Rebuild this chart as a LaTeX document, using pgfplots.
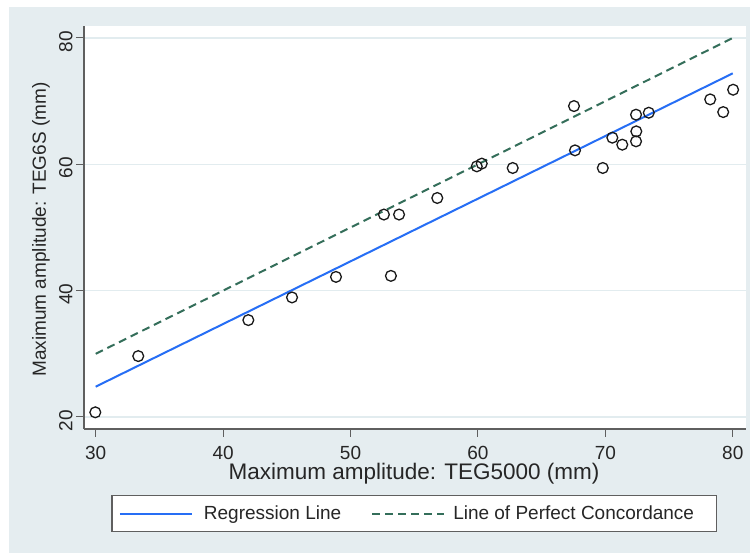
\documentclass[border=0pt]{standalone}
\usepackage{pgfplots}
\pgfplotsset{compat=1.18}
\usepackage{fontspec}
\setmainfont{Liberation Sans}
\definecolor{bgc}{RGB}{229,237,240}
\definecolor{gridc}{RGB}{226,236,239}
\definecolor{axc}{RGB}{95,95,95}
\definecolor{regc}{RGB}{38,110,245}
\definecolor{pcc}{RGB}{52,110,90}
\begin{document}
\begin{tikzpicture}
\path[use as bounding box] (0,0) rectangle (753pt,553pt);
\fill[bgc] (9pt,0pt) rectangle (750pt,546pt);
\begin{axis}[
 at={(84pt,124pt)}, anchor=south west,
 width=662pt, height=403pt, scale only axis,
 xmin=29.082, xmax=81.04, ymin=18.10, ymax=81.90,
 axis background/.style={fill=white},
 axis x line*=bottom, axis y line*=left,
 axis line style={draw=axc, line width=1.2pt, -},
 xtick={30,40,50,60,70,80}, ytick={20,40,60,80},
 tick align=outside, major tick length=8pt,
 tick style={draw=axc, line width=1pt},
 ymajorgrids, grid style={draw=gridc, line width=1.3pt},
 /pgf/number format/assume math mode=true,
 ticklabel style={font=\fontsize{19}{22}\selectfont, text=black!85},
 xticklabel style={inner sep=1pt, yshift=-8pt},
 yticklabel style={rotate=90, anchor=south, xshift=-3.5pt},
 xlabel={Maximum amplitude: TEG5000 (mm)},
 ylabel={Maximum amplitude: TEG6S (mm)},
 xlabel style={font=\fontsize{22.5}{26}\selectfont, text=black!85, inner sep=1pt, at={(axis description cs:0.4985,-0.126)}, anchor=base},
 ylabel style={font=\fontsize{19}{22}\selectfont, text=black!85, at={(axis description cs:-0.0575,0.495)}, anchor=base},
 legend columns=2,
 legend style={at={(axis description cs:0.4985,-0.2097)}, anchor=center, draw=axc, line width=1.1pt, fill=white,
   font=\fontsize{19}{22}\selectfont, text=black!85, inner xsep=7pt, inner ysep=8pt,
   /tikz/every even column/.append style={column sep=28pt}},
]
\addplot[only marks, mark=o, mark size=5.4pt, draw=black!90, line width=1.3pt, forget plot] coordinates {
(29.97,20.74) (33.34,29.64) (41.98,35.34) (45.41,38.93) (48.86,42.18)
(52.62,52.05) (53.17,42.34) (53.81,52.05) (56.81,54.67) (59.91,59.68)
(60.30,60.11) (62.73,59.42) (67.54,69.22) (67.62,62.21) (69.80,59.42)
(70.55,64.22) (71.33,63.11) (72.41,67.86) (72.43,65.22) (72.41,63.64)
(73.41,68.17) (78.23,70.28) (79.25,68.27) (80.03,71.81)
};
\addplot[regc, line width=2pt, legend image code/.code={\draw[regc, line width=2pt] (0pt,0pt) -- (72pt,0pt); \path (81pt,0pt);}] coordinates {(30,24.8) (80,74.4)};
\addlegendentry{Regression Line}
\addplot[pcc, line width=2pt, dash pattern=on 8pt off 5pt, legend image code/.code={\draw[pcc, line width=2pt, dash pattern=on 8pt off 5pt] (0pt,0pt) -- (72pt,0pt); \path (78pt,0pt);}] coordinates {(30,30) (80,80)};
\addlegendentry{Line of Perfect Concordance\kern13pt}
\end{axis}
\end{tikzpicture}
\end{document}
